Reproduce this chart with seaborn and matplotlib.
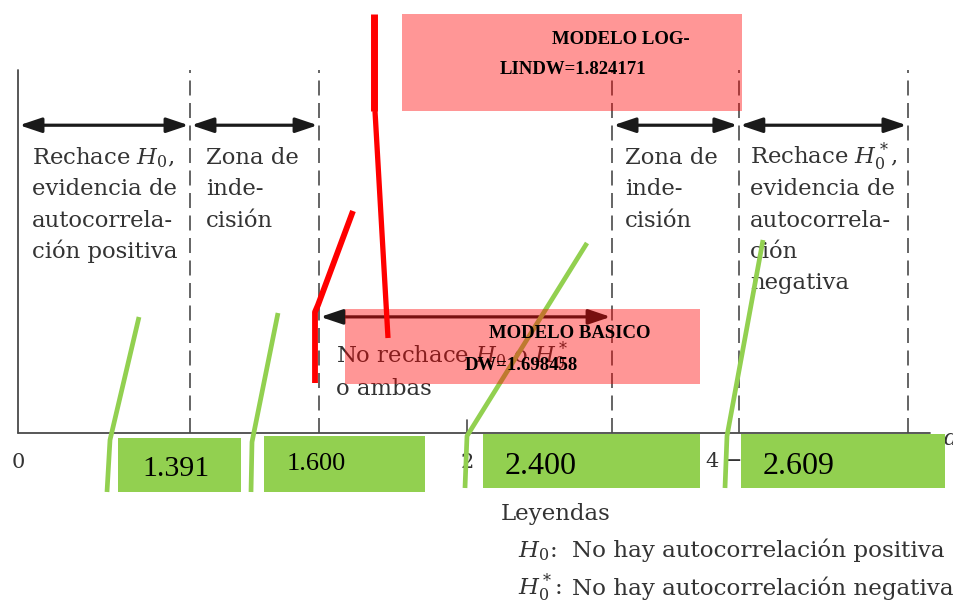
import matplotlib
matplotlib.use("Agg")
import matplotlib.pyplot as plt
from matplotlib.patches import Rectangle
import seaborn as sns

# --- Datos: valores críticos Durbin-Watson y estadísticos de los modelos ---
dl, du = 1.391, 1.600
valores_criticos = [dl, du, 4 - du, 4 - dl]
modelos = ["MODELO BASICO", "MODELO LOG-LIN"]
dw_modelos = [1.698458, 1.824171]

# eje d (esquemático, no a escala) y sus etiquetas
pos_eje = [0, 0.773, 1.353, 2.02, 2.670, 3.240, 4.0]
etiq_eje = ["0", "$d_L$", "$d_U$", "2", "4 − $d_U$", "4 − $d_L$", "4"]

zonas_texto = [
    ["Rechace $H_0$,", "evidencia de", "autocorrela-", "ción positiva"],
    ["Zona de", "inde-", "cisión"],
    ["Zona de", "inde-", "cisión"],
    ["Rechace $H_0^*$,", "evidencia de", "autocorrela-", "ción", "negativa"],
]
texto_centro = ["No rechace $H_0$ o $H_0^*$", "o ambas"]
leyendas = [("$H_0$:", "No hay autocorrelación positiva"),
            ("$H_0^*$:", "No hay autocorrelación negativa")]

# --- Estilo ---
sns.set_theme(style="white")
plt.rcParams["font.family"] = ["DejaVu Serif"]
plt.rcParams["mathtext.fontset"] = "dejavuserif"

GRIS = "#4a4a4a"
TEXTO = "#333333"
VERDE = "#92d050"
ROSA = (1.0, 0.0, 0.0, 0.41)

fig = plt.figure(figsize=(9.54, 6), dpi=100)
ax = fig.add_axes([0, 0, 1, 1])
ax.set_xlim(-0.081, 4.207)
ax.set_ylim(-0.46, 1.193)
ax.axis("off")

# ejes del diagrama
ax.plot([pos_eje[0], 4.10], [0, 0], color=GRIS, lw=1.3)
ax.plot([pos_eje[0], pos_eje[0]], [0, 1], color=GRIS, lw=1.3)
for i in [1, 2, 4, 5, 6]:
    ax.plot([pos_eje[i], pos_eje[i]], [0, 1], color=GRIS, lw=1.2,
            linestyle=(0, (9, 4.5)))
ax.plot([pos_eje[3], pos_eje[3]], [0, 0.036], color=GRIS, lw=1.2)

# flechas de las zonas
flecha = dict(arrowstyle="<|-|>,head_length=0.95,head_width=0.32",
              color="#1a1a1a", lw=2.3, shrinkA=1, shrinkB=1, mutation_scale=14)
for a, b in [(0, 1), (1, 2), (4, 5), (5, 6)]:
    ax.annotate("", xy=(pos_eje[b], 0.848), xytext=(pos_eje[a], 0.848),
                arrowprops=flecha)
ax.annotate("", xy=(pos_eje[4], 0.32), xytext=(pos_eje[2], 0.32),
            arrowprops=flecha)

# textos de zonas
zonas_x = [0.063, 0.845, 2.728, 3.290]
for x, lineas in zip(zonas_x, zonas_texto):
    for k, t in enumerate(lineas):
        ax.text(x, 0.741 - k * 0.0862, t, fontsize=16.4, color=TEXTO,
                ha="left", va="baseline")
for k, t in enumerate(texto_centro):
    ax.text(1.429, 0.193 - k * 0.088, t, fontsize=16.4, color=TEXTO,
            ha="left", va="baseline")

# etiquetas del eje
for p, e in zip(pos_eje, etiq_eje):
    ax.text(p, -0.08, e, fontsize=15, color=TEXTO, ha="center", va="center")
ax.text(4.162, -0.033, "d", fontsize=16, style="italic", color=TEXTO,
        ha="left", va="baseline")

# leyendas
ax.text(2.171, -0.240, "Leyendas", fontsize=16.5, color=TEXTO, va="baseline")
for k, (h, t) in enumerate(leyendas):
    ax.text(2.247, -0.342 - k * 0.104, h, fontsize=16.5, color=TEXTO, va="baseline")
    ax.text(2.490, -0.342 - k * 0.104, t, fontsize=16.6, color=TEXTO, va="baseline")

# --- Capa de anotaciones (coordenadas en píxeles de la imagen) ---
capa = fig.add_axes([0, 0, 1, 1], zorder=5)
capa.set_xlim(0, 954)
capa.set_ylim(600, 0)
capa.axis("off")
capa.patch.set_alpha(0)

cajas_verdes = [(118, 438, 241, 492), (264, 436, 425, 492),
                (483, 434, 700, 488), (741, 434, 945, 488)]
texto_verde_xy = [(142, 469), (287, 464), (505, 466), (763, 466)]
tam_verde = [21.5, 19, 23, 23]
lineas_verdes = [[(139, 317), (110, 440), (107, 492)],
                 [(278, 313), (252, 442), (251, 492)],
                 [(587, 243), (467, 436), (465, 488)],
                 [(763, 240), (727, 436), (725, 488)]]

for (x0, y0, x1, y1), (tx, ty), s, v in zip(cajas_verdes, texto_verde_xy,
                                             tam_verde, valores_criticos):
    capa.add_patch(Rectangle((x0, y0), x1 - x0, y1 - y0, color=VERDE, lw=0, zorder=2))
    capa.text(tx, ty, f"{v:.3f}", fontsize=s, family="Liberation Serif",
              color="black", ha="left", va="center", zorder=6)
for pts in lineas_verdes:
    xs, ys = zip(*pts)
    capa.plot(xs, ys, color=VERDE, lw=3.4, solid_capstyle="butt", zorder=2)

# cajas rosadas con el DW de cada modelo
cajas_rosa = [(345, 309, 700, 384), (402, 14, 742, 111)]
textos_rosa = [
    [(modelos[0], 489, 333), (f"DW={dw_modelos[0]:.6f}", 465, 365)],
    [(modelos[1].split("-")[0] + "-", 552, 39),
     (modelos[1].split("-")[1] + f"DW={dw_modelos[1]:.6f}", 500, 70)],
]
for (x0, y0, x1, y1), txts in zip(cajas_rosa, textos_rosa):
    capa.add_patch(Rectangle((x0, y0), x1 - x0, y1 - y0, facecolor=ROSA, lw=0, zorder=3))
    for t, tx, ty in txts:
        capa.text(tx, ty, t, fontsize=13.5, family="Liberation Serif",
                  weight="bold", color="black", ha="left", va="center", zorder=6)

# líneas rojas
capa.plot([374, 374], [14, 111], color="red", lw=5, solid_capstyle="butt", zorder=4)
capa.plot([375, 388], [111, 338], color="red", lw=3.8, solid_capstyle="butt", zorder=4)
capa.plot([353, 318, 315, 315], [211, 305, 312, 383], color="red", lw=4.2,
          solid_capstyle="butt", zorder=4)

fig.savefig("out.png", dpi=100)
